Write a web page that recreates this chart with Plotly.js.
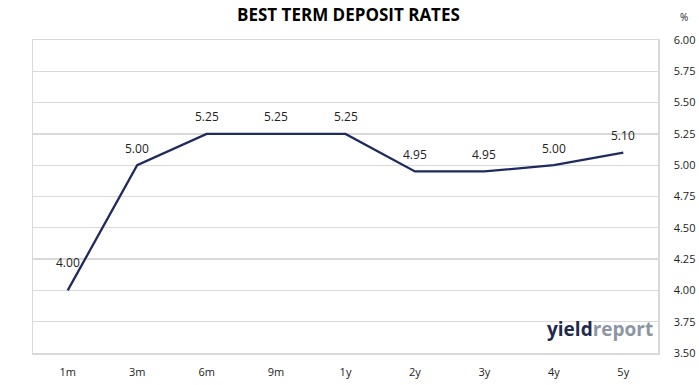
<!DOCTYPE html>
<html>
<head>
<meta charset="utf-8">
<script src="https://cdn.plot.ly/plotly-3.0.1.min.js"></script>
<style>html,body{margin:0;padding:0;background:#fff;}#chart{width:699px;height:385px;}</style>
</head>
<body>
<div id="chart"></div>
<script>
const categories = ["1m", "3m", "6m", "9m", "1y", "2y", "3y", "4y", "5y"];
const rates = [4.00, 5.00, 5.25, 5.25, 5.25, 4.95, 4.95, 5.00, 5.10];
const yTicks = [3.50, 3.75, 4.00, 4.25, 4.50, 4.75, 5.00, 5.25, 5.50, 5.75, 6.00];

const labelShift = rates.map((v, i) => i === 0 ? 28 : 17);
const FONT = "Open Sans, Liberation Sans, sans-serif";

const annotations = categories.map((c, i) => ({
  x: c, y: rates[i], xref: "x", yref: "y",
  text: rates[i].toFixed(2), showarrow: false, yshift: labelShift[i],
  font: {family: FONT, size: 12, color: "#222"}
}));
annotations.push({
  xref: "paper", yref: "paper", x: 0.505, y: 1, yanchor: "bottom", yshift: 12,
  text: "<b>BEST TERM DEPOSIT RATES</b>", showarrow: false,
  font: {family: FONT, size: 17, color: "#000"}
});
annotations.push({
  xref: "paper", yref: "paper", x: 1, xanchor: "left", xshift: 20, y: 1, yanchor: "bottom", yshift: 14,
  text: "%", showarrow: false, font: {family: FONT, size: 10, color: "#222"}
});
annotations.push({
  xref: "paper", yref: "paper", x: 0.995, xanchor: "right", y: 0.03, yanchor: "bottom",
  text: "<b><span style='color:#1f2a4f'>yield</span><span style='color:#8c95a6'>report</span></b>",
  showarrow: false, font: {family: FONT, size: 19}
});

Plotly.newPlot("chart", [{
  x: categories, y: rates, type: "scatter", mode: "lines",
  line: {color: "#1f2a5e", width: 2.3},
  hoverinfo: "skip"
}], {
  width: 699, height: 385,
  margin: {l: 33, r: 41, t: 40, b: 32},
  paper_bgcolor: "#fff", plot_bgcolor: "#fff",
  showlegend: false,
  xaxis: {
    type: "category", range: [-0.5, 8.5], showgrid: false, zeroline: false,
    showline: true, mirror: true, linecolor: "#d9d9d9", linewidth: 1.5,
    ticks: "", ticklabelstandoff: 8,
    tickfont: {family: FONT, size: 11, color: "#222"}
  },
  yaxis: {
    side: "right", range: [3.5, 6.0], tickvals: yTicks,
    ticktext: yTicks.map(v => v.toFixed(2)),
    showgrid: true, gridcolor: "#d9d9d9", gridwidth: 1.3, zeroline: false,
    showline: true, mirror: true, linecolor: "#d9d9d9", linewidth: 1.5,
    ticks: "", ticklabelstandoff: 12,
    tickfont: {family: FONT, size: 11, color: "#222"}
  },
  annotations: annotations
}, {displayModeBar: false, staticPlot: true});
</script>
</body>
</html>
